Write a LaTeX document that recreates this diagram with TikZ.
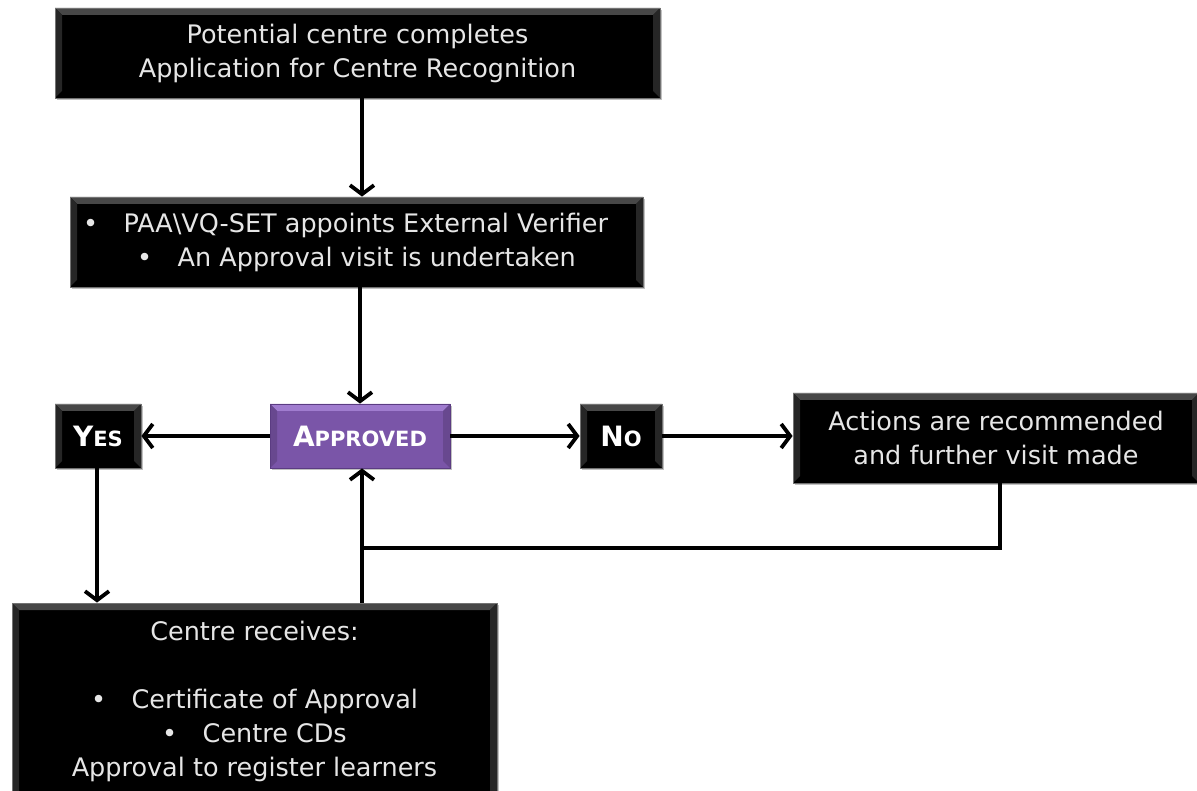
\documentclass[tikz,border=0pt]{standalone}
\usepackage{fontspec}
\setmainfont{DejaVu Sans}
\usetikzlibrary{arrows.meta,shadows}
\definecolor{txt}{HTML}{E6E6E6}
\definecolor{purp}{HTML}{7A55A8}
\definecolor{purpl}{HTML}{A07CCF}
\definecolor{purpd}{HTML}{5B3C82}
\tikzset{
  bevelbox/.style n args={4}{
    fill=#1, draw=#4, line width=0.8pt, inner sep=0pt,
    text=txt, align=center,
    drop shadow={shadow xshift=2pt,shadow yshift=-2pt,fill=black!40,opacity=0.6},
    path picture={
      \fill[#2] (path picture bounding box.north west) -- (path picture bounding box.north east)
        -- ([xshift=-7pt,yshift=-7pt]path picture bounding box.north east)
        -- ([xshift=7pt,yshift=-7pt]path picture bounding box.north west) -- cycle;
      \fill[#3] (path picture bounding box.north west) -- ([xshift=7pt,yshift=-7pt]path picture bounding box.north west)
        -- ([xshift=7pt,yshift=7pt]path picture bounding box.south west) -- (path picture bounding box.south west) -- cycle;
      \fill[#3] (path picture bounding box.north east) -- ([xshift=-7pt,yshift=-7pt]path picture bounding box.north east)
        -- ([xshift=-7pt,yshift=7pt]path picture bounding box.south east) -- (path picture bounding box.south east) -- cycle;
    }},
  blackbox/.style={bevelbox={black}{black!72}{black!85}{black!55}},
  purplebox/.style={bevelbox={purp}{purpl}{purp!85!black}{purpd}},
  conn/.style={line width=3.8pt, black},
  arr/.style={conn, -{Straight Barb[length=9pt,width=24pt]}},
  bodyfont/.style={font=\fontsize{25.5}{34}\selectfont},
  capsfont/.style={font=\fontsize{26}{30}\bfseries\selectfont, text=white},
}
\newcommand{\fsc}[2]{{\fontsize{28}{30}\selectfont #1}{\fontsize{21}{30}\selectfont #2}}
\begin{document}
\begin{tikzpicture}[x=1pt,y=-1pt]
\useasboundingbox (0,0) rectangle (1197,791);
\fill[white] (0,0) rectangle (1197,791);

\node[blackbox, bodyfont, minimum width=605pt, minimum height=90pt] (top) at (357.5,53)
  {Potential centre completes\\Application for Centre Recognition};
\node[blackbox, bodyfont, minimum width=573pt, minimum height=90pt] (ev) at (356.5,242)
  {\hspace*{-22pt}•\quad PAA\textbackslash VQ-SET appoints External Verifier\\ •\quad An Approval visit is undertaken};
\node[purplebox, capsfont, minimum width=180pt, minimum height=64pt] (app) at (360,436)
  {\fsc{A}{PPROVED}};
\node[blackbox, capsfont, minimum width=86pt, minimum height=64pt] (yes) at (98,436)
  {\fsc{Y}{ES}};
\node[blackbox, capsfont, minimum width=82pt, minimum height=64pt] (no) at (621,436)
  {\fsc{N}{O}};
\node[blackbox, bodyfont, minimum width=406pt, minimum height=90pt] (act) at (996,438)
  {Actions are recommended\\and further visit made};
\node[blackbox, bodyfont, minimum width=485pt, minimum height=196pt] (cr) at (254.5,701)
  {Centre receives:\\[34pt] •\quad Certificate of Approval\\ •\quad Centre CDs\\ Approval to register learners};

\coordinate (join) at (362,548);

\draw[arr] (top.south -| 362,0) -- (ev.north -| 362,0);
\draw[arr] (ev.south -| 360,0) -- (app.north -| 360,0);
\draw[arr] (app.west) -- (yes.east);
\draw[arr] (app.east) -- (no.west);
\draw[arr] (no.east) -- (no.east -| act.west);
\draw[arr] (yes.south -| 97,0) -- (cr.north -| 97,0);
\draw[arr] (cr.north -| 362,0) -- (app.south -| 362,0);
\draw[conn] (act.south -| 1000,0) |- (join);
\end{tikzpicture}
\end{document}
